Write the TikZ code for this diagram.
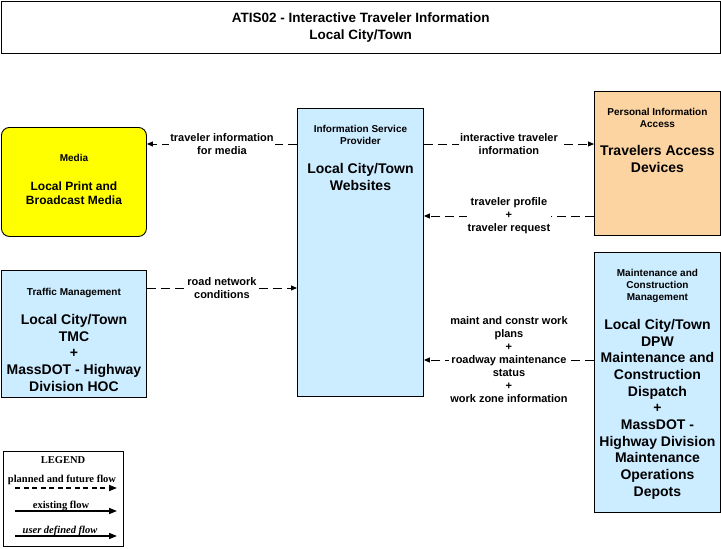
\documentclass[tikz,border=0pt]{standalone}
\usepackage{fontspec}
\setmainfont{Liberation Sans}
\newfontfamily\legendfont{Liberation Serif}
\usetikzlibrary{arrows.meta, positioning, calc}
\definecolor{archblue}{RGB}{204,236,255}
\definecolor{archpeach}{RGB}{252,212,162}
\definecolor{archyellow}{RGB}{255,255,0}
\newcommand{\fsz}[2]{\fontsize{#1}{#2}\selectfont\bfseries}

\begin{document}
\begin{tikzpicture}[x=1pt, y=-1pt, node distance=10pt,
  box/.style={draw, line width=0.9pt, anchor=north west, inner sep=0pt},
  cat/.style={font=\fsz{10}{12}, align=center, inner sep=0pt},
  big/.style={font=\fsz{14}{16.7}, align=center, inner sep=0pt},
  flow/.style={-{Triangle[length=6pt,width=5pt]}, line width=0.9pt, dash pattern=on 9pt off 5pt},
  flowlbl/.style={font=\fsz{11}{13}, align=center, fill=white, inner sep=1pt},
  lgd/.style={font=\legendfont\fontsize{10.5}{12}\selectfont\bfseries, inner sep=0pt, anchor=base},
  lgdarrow/.style={-{Triangle[length=8pt,width=6pt]}, line width=1.5pt}]
\useasboundingbox (0,0) rectangle (721,549);

% title
\node[box, line width=1.2pt, minimum width=719, minimum height=52] (title) at (0.6,1) {};
\node[font=\fsz{13.5}{17}, align=center, inner sep=0pt, below=12pt of title.north] (titletxt) {ATIS02 - Interactive Traveler Information\\Local City/Town};

% elements
\node[box, fill=archyellow, rounded corners=8pt, minimum width=145, minimum height=109] (media) at (1,127) {};
\node[cat, below=27pt of media.north] {Media};
\node[font=\fsz{12}{14}, align=center, inner sep=0pt, below=55pt of media.north] {Local Print and\\Broadcast Media};

\node[box, fill=archblue, minimum width=126, minimum height=288] (isp) at (297,108) {};
\node[cat, below=17pt of isp.north] {Information Service\\Provider};
\node[big, below=55pt of isp.north] {Local City/Town\\Websites};

\node[box, fill=archpeach, minimum width=126, minimum height=144] (pia) at (594,91) {};
\node[cat, below=17pt of pia.north] {Personal Information\\Access};
\node[big, below=54pt of pia.north] {Travelers Access\\Devices};

\node[box, fill=archblue, minimum width=145, minimum height=127] (tm) at (1,270) {};
\node[cat, below=18pt of tm.north] {Traffic Management};
\node[big, below=44pt of tm.north] {Local City/Town\\TMC\\+\\MassDOT - Highway\\Division HOC};

\node[box, fill=archblue, minimum width=126, minimum height=260] (mcm) at (594,252) {};
\node[cat, below=17pt of mcm.north] {Maintenance and\\Construction\\Management};
\node[big, below=67pt of mcm.north] {Local City/Town\\DPW\\Maintenance and\\Construction\\Dispatch\\+\\MassDOT -\\Highway Division\\Maintenance\\Operations\\Depots};

% flows
\draw[flow] ([yshift=-36pt]isp.north west) -- node[flowlbl] {traveler information\\for media} ([yshift=-17pt]media.north east);
\draw[flow] ([yshift=-18pt]tm.north east) -- node[flowlbl] {road network\\conditions} ([yshift=-180pt]isp.north west);
\draw[flow] ([yshift=-36pt]isp.north east) -- node[flowlbl] {interactive traveler\\information} ([yshift=-53pt]pia.north west);
\draw[flow] ([yshift=-125pt]pia.north west) -- node[flowlbl] {traveler profile\\+\\traveler request} ([yshift=-108pt]isp.north east);
\draw[flow] ([yshift=-108pt]mcm.north west) -- node[flowlbl] {maint and constr work\\plans\\+\\roadway maintenance\\status\\+\\work zone information} ([yshift=-252pt]isp.north east);

% legend
\node[box, line width=1pt, minimum width=120, minimum height=95] (legend) at (3,451) {};
\node[lgd] (lgdhead) at (63,463) {LEGEND};
\node[lgd] (lgdplan) at (62,482) {planned and future flow};
\node[lgd] (lgdexist) at (61,508) {existing flow};
\node[lgd, font=\legendfont\fontsize{10.5}{12}\selectfont\bfseries\itshape] (lgduser) at (60,533) {user defined flow};
\coordinate (lp1) at (15,488); \coordinate (lp2) at (117,488);
\coordinate (le1) at (15,511); \coordinate (le2) at (117,511);
\coordinate (lu1) at (15,536); \coordinate (lu2) at (117,536);
\draw[lgdarrow, dash pattern=on 5pt off 3.5pt] (lp1) -- (lp2);
\draw[lgdarrow] (le1) -- (le2);
\draw[lgdarrow] (lu1) -- (lu2);
\end{tikzpicture}
\end{document}
